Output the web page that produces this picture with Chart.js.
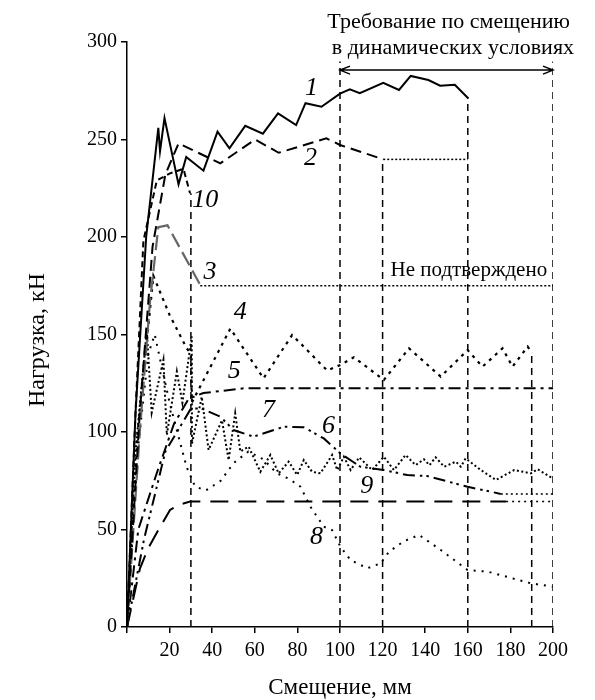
<!DOCTYPE html>
<html>
<head>
<meta charset="utf-8">
<script src="https://cdn.jsdelivr.net/npm/chart.js@4.4.0/dist/chart.umd.min.js"></script>
<style>
  html, body { margin: 0; padding: 0; background: #fff; }
  #wrap { width: 595px; height: 700px; }
</style>
</head>
<body>
<div id="wrap"><canvas id="chart" width="595" height="700"></canvas></div>
<script>
// displacement, mm  /  load, kN
var c1x = [0, 4, 9, 14.7, 15.5, 17.6, 24.2, 27.8, 35.9, 42.5, 48.1, 55.5, 63.8, 70.9, 79.4, 83.8, 91.3, 100, 104.6, 109.3, 120.3, 127.7, 133.2, 141.5, 147, 153.9, 160.3];
var c1y = [0, 110, 200, 256, 244, 261, 227, 241, 234, 254, 245.5, 257, 253, 263.4, 257.4, 268.6, 266.8, 273.5, 275.7, 273.7, 279.1, 275.4, 282.6, 280.5, 277.6, 278.1, 271];

var c2x = [0, 6, 12, 18, 24.2, 43.8, 60.2, 71.2, 93.6, 100, 120.3];
var c2y = [0, 110, 195, 232, 248, 237.8, 250, 243.2, 250.6, 247.2, 239.8];
var c2ex = [120.3, 160];
var c2ey = [239.8, 239.8];

var c10x = [0, 4, 7.7, 14, 20.2, 26.5, 29.6];
var c10y = [0, 110, 198, 229, 232.6, 235, 222.4];

var c3x = [0, 6, 10.8, 14.7, 19, 34.4];
var c3y = [0, 100, 167, 205, 206, 175.4];
var c3ex = [34.4, 200];
var c3ey = [175, 175];

var c4x = [0, 5, 12.4, 20, 28, 30, 30.4, 48.5, 64.1, 77.5, 81.4, 94, 100.2, 106.5, 120.6, 132.4, 147.3, 159.9, 166.9, 176.3, 181, 188.1, 190.1];
var c4y = [0, 100, 180, 160, 143, 140, 115, 153, 127.5, 149.7, 145.5, 131.5, 134.4, 138.3, 126.7, 142.9, 128.4, 142, 133.5, 142.9, 133.5, 143.8, 140.4];

var c5x = [0, 3, 5.3, 14, 22, 28.9, 35.9, 54.7, 200];
var c5y = [0, 28, 50, 79, 104, 117, 120, 122.4, 122.4];

var c6x = [0, 4, 9.3, 11.6, 17.1, 18.7, 23.4, 26, 30.4, 30.5, 35.1, 38.3, 44.6, 47.7, 50.8, 53.2, 57.1, 62.6, 67.3, 71.2, 75.9, 79.9, 83, 86.9, 90.8, 96.3, 98.7, 101.8, 105, 109, 115.1, 120.6, 125.3, 130.8, 135.5, 139.4, 142, 144.9, 148.9, 154.4, 156.7, 159, 166.1, 173.2, 181.8, 189.6, 192.8, 199.8];
var c6y = [0, 90, 152, 110, 137, 98.5, 131, 115, 149, 94, 118, 90.8, 106, 85.6, 109.6, 90, 92.5, 79.6, 88.2, 78.8, 84.8, 78, 85.6, 79.6, 78.8, 88.2, 80.5, 87.3, 80.5, 87, 80.5, 87.3, 80.5, 88.2, 83, 86, 83, 87, 82.2, 84.8, 82.2, 86.5, 80.5, 75.4, 80.5, 78.8, 80.9, 76.2];

var c7x = [0, 8, 18, 30, 35.1, 43.8, 50, 59.4, 73.6, 83, 92.4, 100.2, 109.6, 120.6, 131.6, 141, 159.9, 170.8, 175.5];
var c7y = [0, 45, 90, 112, 112, 107.9, 101, 97.6, 102.7, 102.4, 96.7, 89, 82.2, 80.5, 77.9, 77.4, 71.9, 69.4, 68.2];
var c7ex = [175.5, 200];
var c7ey = [68.2, 68.2];

var c8x = [0, 5, 10, 13, 20, 28, 32, 37, 44, 50, 57, 64, 70.4, 76, 81.4, 86.1, 92.4, 96.3, 100.2, 104.9, 112.8, 119.1, 123, 130, 137.1, 147.3, 159.9, 169.3, 189.6, 199.8];
var c8y = [0, 90, 140, 150, 115, 82, 72, 70, 75, 84, 90, 86, 78.8, 76, 72, 61.7, 51.4, 49.7, 41.2, 34.4, 30.1, 32.7, 38.6, 44, 47.2, 39.5, 29.2, 28.4, 22.4, 20.7];

var c9x = [0, 6.1, 10, 14.7, 20.2, 24.2, 29.6, 178];
var c9y = [0, 30.1, 40.4, 49.7, 60, 62.6, 64.3, 64.3];
var c9ex = [178, 200];
var c9ey = [64.3, 64.3];

// vertical limit lines: x position, top load
var vlineX = [30, 100, 120, 160, 190, 200];
var vlineTop = [222.4, 290, 239.8, 271, 140.4, 290];

// curve numbers: text, x, y
var labText = ['1', '2', '10', '3', '4', '5', '7', '6', '9', '8'];
var labX = [86.6, 86.1, 36.7, 39, 53.2, 50.4, 66.4, 94.6, 112.5, 89];
var labY = [276.4, 240.5, 219, 182, 161.5, 131.3, 111.3, 103, 72.3, 46.2];

var arrowY = 285.6;
var arrowFrom = 100, arrowTo = 200;

function pts(xs, ys) {
  return xs.map(function (x, i) { return { x: x, y: ys[i] }; });
}

function ds(xs, ys, dash, width, colour) {
  return {
    data: pts(xs, ys),
    showLine: true,
    borderColor: colour || '#000',
    borderWidth: width,
    borderDash: dash,
    pointRadius: 0,
    fill: false,
    tension: 0
  };
}

var datasets = [
  ds(c1x, c1y, [], 2),
  ds(c2x, c2y, [11, 6], 2),
  ds(c2ex, c2ey, [2, 2], 1.5),
  ds(c10x, c10y, [6, 4], 2),
  ds(c3x, c3y, [15, 6], 2.2, '#666'),
  ds(c3ex, c3ey, [2, 2], 1.5),
  ds(c4x, c4y, [3, 5], 2.2),
  ds(c5x, c5y, [12, 5, 3, 5], 2),
  ds(c6x, c6y, [2, 2.5], 2),
  ds(c7x, c7y, [12, 5, 2.5, 4, 2.5, 5], 2),
  ds(c7ex, c7ey, [2, 3], 1.5),
  ds(c8x, c8y, [2, 6], 2),
  ds(c9x, c9y, [18, 10], 2),
  ds(c9ex, c9ey, [2, 4], 1.5)
];

for (var i = 0; i < vlineX.length; i++) {
  datasets.push(ds([vlineX[i], vlineX[i]], [0, vlineTop[i]], [7, 5], 1.5));
}

var SERIF = '"Liberation Serif", "DejaVu Serif", serif';

//draws the titles, the curve numbers and the requirement arrow
var textPlugin = {
  id: 'texts',
  afterDraw: function (ch) {
    var c = ch.ctx;
    var xs = ch.scales.x, ys = ch.scales.y;
    c.save();
    c.fillStyle = '#000';
    c.strokeStyle = '#000';

    c.font = 'italic 26px ' + SERIF;
    c.textAlign = 'center';
    c.textBaseline = 'middle';
    for (var i = 0; i < labText.length; i++) {
      c.fillText(labText[i], xs.getPixelForValue(labX[i]), ys.getPixelForValue(labY[i]));
    }

    c.font = '21px ' + SERIF;
    c.fillText('Не подтверждено', xs.getPixelForValue(160.5), ys.getPixelForValue(183));

    c.font = '22px ' + SERIF;
    c.fillText('Требование по смещению', xs.getPixelForValue(151), 22);
    c.fillText('в динамических условиях', xs.getPixelForValue(153), 48);

    // arrow
    var ay = ys.getPixelForValue(arrowY);
    var a0 = xs.getPixelForValue(arrowFrom), a1 = xs.getPixelForValue(arrowTo);
    c.lineWidth = 1.5;
    c.beginPath();
    c.moveTo(a0, ay); c.lineTo(a1, ay);
    c.moveTo(a0 + 10, ay - 4); c.lineTo(a0, ay); c.lineTo(a0 + 10, ay + 4);
    c.moveTo(a1 - 10, ay - 4); c.lineTo(a1, ay); c.lineTo(a1 - 10, ay + 4);
    c.stroke();

    // axis titles
    c.font = '23px ' + SERIF;
    c.fillText('Смещение, мм', (ch.chartArea.left + ch.chartArea.right) / 2, 688);
    c.font = '24px ' + SERIF;
    c.translate(38, 340);
    c.rotate(-Math.PI / 2);
    c.fillText('Нагрузка, кН', 0, 0);
    c.restore();
  }
};

Chart.defaults.font.family = SERIF;
Chart.defaults.color = '#000';

var chart = new Chart(document.getElementById('chart').getContext('2d'), {
  type: 'scatter',
  data: { datasets: datasets },
  plugins: [textPlugin],
  options: {
    responsive: false,
    animation: false,
    layout: { padding: { top: 42, right: 42, left: 0, bottom: 0 } },
    plugins: { legend: { display: false }, tooltip: { enabled: false } },
    scales: {
      x: {
        type: 'linear', min: 0, max: 200,
        afterFit: function (s) { s.height = 73; },
        border: { color: '#000', width: 1.5 },
        grid: { drawOnChartArea: false, tickLength: 6, color: '#000', lineWidth: 1.5 },
        ticks: {
          stepSize: 20, padding: 6, maxRotation: 0,
          font: { size: 20 }, color: '#000',
          callback: function (v) { return v === 0 ? '' : v; }
        }
      },
      y: {
        type: 'linear', min: 0, max: 300,
        afterFit: function (s) { s.width = 127; },
        border: { color: '#000', width: 1.5 },
        grid: { drawOnChartArea: false, tickLength: 6, color: '#000', lineWidth: 1.5 },
        ticks: { stepSize: 50, padding: 4, font: { size: 20 }, color: '#000' }
      }
    }
  }
});
</script>
</body>
</html>
